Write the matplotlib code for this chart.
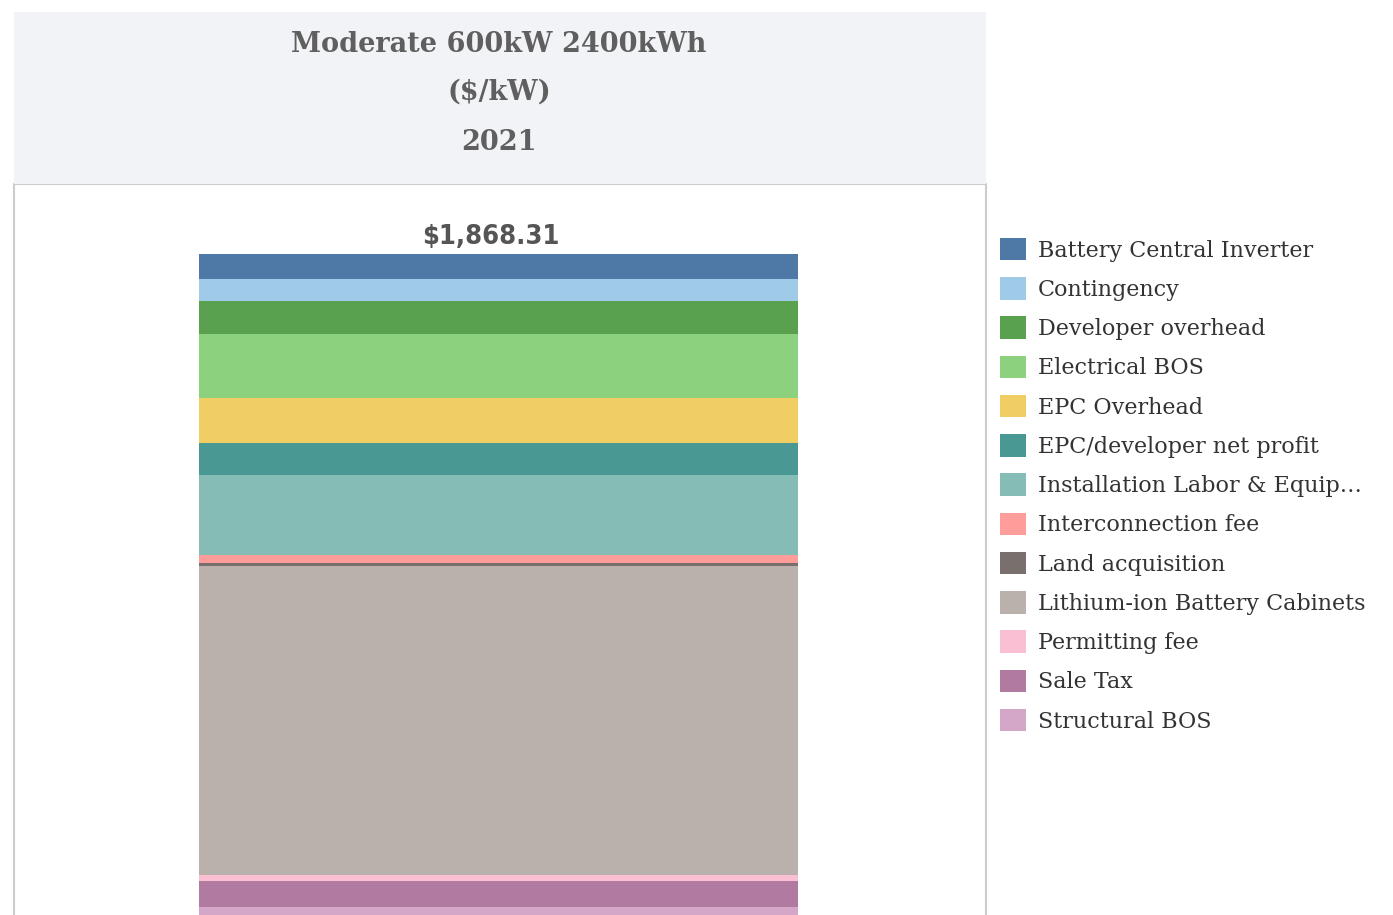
import matplotlib.pyplot as plt
from matplotlib.patches import Rectangle

categories = ['Battery Central Inverter', 'Contingency', 'Developer overhead',
              'Electrical BOS', 'EPC Overhead', 'EPC/developer net profit',
              'Installation Labor & Equip\u2026', 'Interconnection fee',
              'Land acquisition', 'Lithium-ion Battery Cabinets',
              'Permitting fee', 'Sale Tax', 'Structural BOS']
values = [69.1, 60.8, 91.2, 176.9, 124.4, 88.4, 221.1, 22.1, 8.3, 854.1,
          16.6, 71.9, 63.41]
colors = ['#4e79a7', '#a0cbe8', '#59a14f', '#8cd17d', '#f1ce63', '#499894',
          '#86bcb6', '#ff9d9a', '#79706e', '#bab0ac', '#fabfd2', '#b07aa1',
          '#d4a6c8']
title_lines = ['Moderate 600kW 2400kWh', '($/kW)', '2021']

W, H = 1393, 915
fig = plt.figure(figsize=(W / 100, H / 100), dpi=100)

# header panel
fig.patches.append(Rectangle((14 / W, 1 - 184 / H), 972 / W, 172 / H,
                             transform=fig.transFigure, facecolor='#f2f3f7',
                             edgecolor='none', zorder=0))
for txt, y in zip(title_lines, [44, 92, 142]):
    fig.text(499 / W, 1 - y / H, txt, ha='center', va='center', fontsize=19.5,
             fontweight='bold', color='#5f5f5f', family='DejaVu Serif')

# plot area (bottom runs off the figure, like the cropped original)
ax = fig.add_axes([14 / W, 1 - 930 / H, 972 / W, 746 / H])
bottom = 0
handles = []
for name, v, c in reversed(list(zip(categories, values, colors))):
    b = ax.bar(0, v, width=0.6, bottom=bottom, color=c, label=name,
               edgecolor='none')
    handles.append(b)
    bottom += v
handles = handles[::-1]

total = sum(values)
ax.text(-0.0073, total + 10, '${:,.2f}'.format(total), ha='center',
        va='bottom', fontsize=19.5, fontweight='bold', color='#555555',
        family='DejaVu Sans', fontstretch='condensed')

ax.set_xlim(-0.4853, 0.4883)
ax.set_ylim(0, 2061.8)
ax.set_xticks([])
ax.set_yticks([])
for s in ax.spines.values():
    s.set_color('#cccccc')
    s.set_linewidth(1.5)

fig.legend(handles, categories, loc='upper left',
           bbox_to_anchor=(1000 / W, 1 - 238 / H), frameon=False,
           prop={'family': 'DejaVu Serif', 'size': 16},
           labelcolor='#333333', handlelength=1.17, handleheight=1.17,
           handletextpad=0.55, labelspacing=0.70, borderpad=0,
           borderaxespad=0)

fig.savefig('out.png', dpi=100)
